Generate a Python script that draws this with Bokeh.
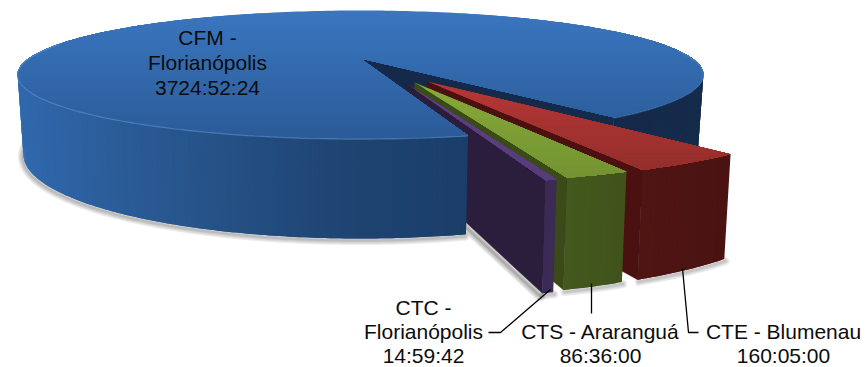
import numpy as np
from bokeh.plotting import figure
from bokeh.models import Range1d
from bokeh.core.properties import value
from bokeh.embed import file_html
from bokeh.resources import INLINE

# ---- data -------------------------------------------------------------
campus = ["CFM - Florianópolis", "CTE - Blumenau", "CTS - Araranguá", "CTC - Florianópolis"]
durations = ["3724:52:24", "160:05:00", "86:36:00", "14:59:42"]

def hours(s):
    h, m, sec = s.split(":")
    return int(h) + int(m) / 60 + int(sec) / 3600

vals = np.array([hours(d) for d in durations])
sweep = vals / vals.sum() * 360.0

# ---- projection: plan coords (u, v), z = 0 top / 1 bottom -> reference pixels
def proj(u, v, z=0.0):
    u, v = np.asarray(u, float), np.asarray(v, float)
    den = 1 + 0.25 * v
    y = (-45.5 * v + 58 + 75 * z) / den
    x = 360 + 332 * u / den * (1 - 0.017 * z)
    return x, y

def arc(a0, a1, n=None):
    n = n or max(3, int(abs(a1 - a0) * 1.5))
    t = np.radians(np.linspace(a0, a1, n))
    return np.cos(t), np.sin(t)

W, H = 867, 367
p = figure(width=W, height=H, x_range=Range1d(0, W), y_range=Range1d(H, 0),
           toolbar_location=None, output_backend="svg", min_border=0)
p.axis.visible = False
p.grid.visible = False
p.outline_line_color = None
p.background_fill_color = "white"
p.border_fill_color = "white"

def rgb(h):
    return np.array([int(h[i:i + 2], 16) for i in (1, 3, 5)], float)

def mix(c0, c1, t):
    c = rgb(c0) * (1 - t) + rgb(c1) * t
    return "#%02x%02x%02x" % tuple(int(round(k)) for k in c)

def clip_below(px, py, y0):
    """keep the part of a polygon with y >= y0"""
    ox, oy = [], []
    n = len(px)
    for i in range(n):
        x1, y1, x2, y2 = px[i], py[i], px[(i + 1) % n], py[(i + 1) % n]
        if y1 >= y0:
            ox.append(x1); oy.append(y1)
        if (y1 >= y0) != (y2 >= y0):
            t = (y0 - y1) / (y2 - y1)
            ox.append(x1 + t * (x2 - x1)); oy.append(y0)
    return ox, oy

def grad_poly(px, py, c0, c1, n=28):
    y0, y1 = min(py), max(py)
    xs, ys, cs = [], [], []
    for i in range(n):
        yy = y0 + (y1 - y0) * i / n
        ox, oy = clip_below(list(px), list(py), yy)
        if len(ox) >= 3:
            xs.append(ox); ys.append(oy); cs.append(mix(c0, c1, i / (n - 1)))
    p.patches(xs, ys, fill_color=cs, line_color=None)

def poly(px, py, c):
    p.patch(list(px), list(py), fill_color=c, line_color=c, line_width=0.5)

def soft(px, py, widths=(9, 6.5, 4, 2), alpha=0.09, dx=0, dy=0):
    for w in widths:
        p.line(np.asarray(px) + dx, np.asarray(py) + dy, line_color="#303030",
               line_width=w, line_alpha=alpha, line_cap="round")

def side_strips(a0, a1, off, stops, z1=1.0):
    """outer cylindrical wall, shaded along its length; strips overlap so no seams show"""
    us, vs = arc(a0, a1)
    us, vs = us + off[0], vs + off[1]
    tx, ty = proj(us, vs, 0)
    bx, by = proj(us, vs, z1)
    xs, ys, cs = [], [], []
    xk, ck = zip(*stops)
    n = len(us)
    for i in range(n - 1):
        e = min(i + 3, n)
        xs.append(list(tx[i:e]) + list(bx[i:e][::-1]))
        ys.append(list(ty[i:e]) + list(by[i:e][::-1]))
        xm = (tx[i] + tx[i + 1]) / 2
        j = min(np.searchsorted(xk, xm), len(xk) - 1)
        j = max(j, 1)
        t = np.clip((xm - xk[j - 1]) / (xk[j] - xk[j - 1]), 0, 1)
        cs.append(mix(ck[j - 1], ck[j], t))
    p.patches(xs, ys, fill_color=cs, line_color=None)

# ---- angles ------------------------------------------------------------
A_RIGHT = -52.2
a_cte = (A_RIGHT, A_RIGHT - sweep[1])
a_cts = (a_cte[1], a_cte[1] - sweep[2])
a_ctc = (a_cts[1], a_cts[1] - sweep[3])
A_LEFT = a_ctc[1]
OFF = {"cte": (0.184, -0.35), "cts": (0.148, -0.364), "ctc": (0.125, -0.377)}

# ---- shadows on the page ----------------------------------------------
us, vs = arc(A_LEFT, -195, 120)
sx, sy = proj(us, vs, 1)
soft(sx, sy, dx=-1, dy=2)

for key, (a0, a1) in (("cte", a_cte), ("cts", a_cts), ("ctc", a_ctc)):
    o = OFF[key]
    us, vs = arc(a0, a1, 12)
    fx, fy = proj(np.r_[o[0], us + o[0]], np.r_[o[1], vs + o[1]], 1)
    if key == "ctc":
        soft(fx[[0, -1]], fy[[0, -1]], widths=(10, 7, 4, 2), alpha=0.12, dx=-2, dy=3)
    soft(fx[1:], fy[1:], widths=(8, 5, 2.5), alpha=0.10, dx=1, dy=2)

# ---- main pie: back parts ---------------------------------------------
right_stops = [(600, "#14294a"), (710, "#162c4b")]
side_strips(A_RIGHT, 15, (0, 0), right_stops)

ru, rv = np.cos(np.radians(A_RIGHT)), np.sin(np.radians(A_RIGHT))
x_t, y_t = proj([0, ru], [0, rv], 0)
x_b, y_b = proj([ru, 0], [rv, 0], 1)
poly(np.r_[x_t, x_b], np.r_[y_t, y_b], "#152a4b")

# ---- exploded slices ---------------------------------------------------
def slice_body(key, ang, wall, front_stops):
    a0, a1 = ang
    o = OFF[key]
    cu, cv = np.cos(np.radians(a1)) + o[0], np.sin(np.radians(a1)) + o[1]
    xa, ya = proj([o[0], cu], [o[1], cv], 0)
    xb, yb = proj([cu, o[0]], [cv, o[1]], 1)
    poly(np.r_[xa, xb], np.r_[ya, yb], wall)
    side_strips(a0, a1, o, front_stops)

def slice_top(key, ang, c0, c1):
    a0, a1 = ang
    o = OFF[key]
    us, vs = arc(a0, a1, 14)
    x, y = proj(np.r_[o[0], us + o[0]], np.r_[o[1], vs + o[1]], 0)
    grad_poly(x, y, c0, c1, n=16)

slice_body("cte", a_cte, "#4a1110", [(630, "#4f1513"), (730, "#4a1312")])
slice_top("cte", a_cte, "#b53735", "#952e2c")
slice_body("cts", a_cts, "#3a4a19", [(560, "#435a1d"), (630, "#40521b")])
slice_top("cts", a_cts, "#86a939", "#739431")
slice_body("ctc", a_ctc, "#2b1e3c", [(540, "#3a2a54"), (560, "#3b2b56")])

# ---- main pie: front side and top -------------------------------------
left_stops = [(17, "#3069ad"), (90, "#2c5f9d"), (200, "#265389"), (330, "#1f4574"),
              (470, "#1b3d69")]
side_strips(-195, A_LEFT, (0, 0), left_stops)

us, vs = arc(A_RIGHT, A_LEFT + 360, 260)
tx, ty = proj(np.r_[0, us], np.r_[0, vs], 0)
grad_poly(tx, ty, "#3a76bf", "#2b5b98", n=44)

# rim highlight
us, vs = arc(-195, A_LEFT, 120)
hx, hy = proj(us, vs, 0)
p.line(hx, hy + 0.6, line_color="#5f95d6", line_width=1.2, line_alpha=0.6)
us, vs = arc(A_RIGHT, 8, 50)
hx, hy = proj(us, vs, 0)
p.line(hx, hy + 0.6, line_color="#5f95d6", line_width=1.1, line_alpha=0.4)

slice_top("ctc", a_ctc, "#5e4184", "#573c7c")

# ---- leader lines -------------------------------------------------------
p.multi_line([[550, 500, 488], [591, 591], [682, 688, 698]],
             [[289, 332, 332], [283, 313], [268, 332, 332]],
             line_color="#000000", line_width=1.3)

# ---- labels -------------------------------------------------------------
rows = [
    (207, 37, "CFM -"), (207, 62, "Florianópolis"), (207, 87, durations[0]),
    (783, 331, campus[1]), (783, 355, durations[1]),
    (600, 331, campus[2]), (600, 355, durations[2]),
    (423, 307, "CTC -"), (423, 331, "Florianópolis"), (423, 355, durations[3]),
]
p.text([r[0] for r in rows], [r[1] for r in rows], text=[r[2] for r in rows],
       text_font=value("Liberation Sans"), text_font_size="21px",
       text_align="center", text_baseline="middle", text_color="#0c0c0c")

open("out.html", "w").write(file_html(p, INLINE))
